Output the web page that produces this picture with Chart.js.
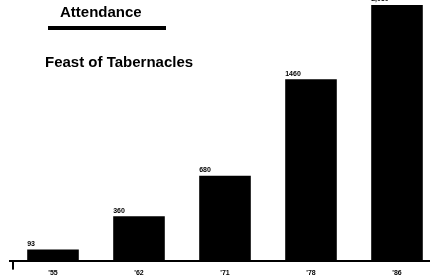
<!DOCTYPE html>
<html>
<head>
<meta charset="utf-8">
<script src="https://cdn.jsdelivr.net/npm/chart.js@4/dist/chart.umd.min.js"></script>
<style>
  html, body { margin: 0; padding: 0; background: #fff; overflow: hidden; }
  #myChart { display: block; }
</style>
</head>
<body>
<!-- a bit wider than the window: the last bar's slot runs off the right edge in the scan -->
<canvas id="myChart" width="440" height="275"></canvas>
<script>
// values (labels are barely legible)
const years = ["'55", "'62", "'71", "'78", "'86"];
const attendance = [90, 355, 680, 1455, 2050];
const valueLabels = ["93", "360", "680", "1460", "2,050"];

// text drawn over the empty upper-left part of the plot
const headings = {
  id: "headings",
  afterDraw(chart) {
    const ctx = chart.ctx;
    ctx.save();
    ctx.fillStyle = "#000";
    ctx.textBaseline = "middle";
    ctx.textAlign = "left";
    ctx.font = "bold 15px 'Liberation Sans', Arial, sans-serif";
    ctx.fillText("Attendance", 60, 13);
    ctx.fillRect(48, 26, 118, 4);
    ctx.fillText("Feast of Tabernacles", 45, 63);

    // value over each bar
    ctx.font = "bold 7px 'Liberation Sans', Arial, sans-serif";
    ctx.textBaseline = "bottom";
    const meta = chart.getDatasetMeta(0);
    meta.data.forEach((bar, i) => {
      ctx.fillText(valueLabels[i], bar.x - bar.width / 2, bar.y - 2);
    });

    // little tick at the left end of the baseline
    const area = chart.chartArea;
    ctx.fillRect(12, area.bottom, 2, 9);
    ctx.restore();
  }
};

const option = {
  type: "bar",
  data: {
    labels: years,
    datasets: [{
      data: attendance,
      backgroundColor: "#000",
      borderWidth: 0,
      barPercentage: 0.6,
      categoryPercentage: 1
    }]
  },
  options: {
    responsive: false,
    animation: false,
    layout: { padding: { left: 10, right: 0, top: 5, bottom: -2 } },
    plugins: {
      legend: { display: false },
      tooltip: { enabled: false }
    },
    scales: {
      x: {
        grid: { display: false },
        border: { display: true, color: "#000", width: 2 },
        ticks: {
          color: "#000",
          padding: 0,
          font: { size: 7, weight: "bold", family: "'Liberation Sans', Arial, sans-serif" }
        }
      },
      y: {
        display: false,
        min: 0,
        max: 2050
      }
    }
  },
  plugins: [headings]
};

const myChart = new Chart(document.getElementById("myChart"), option);
</script>
</body>
</html>
